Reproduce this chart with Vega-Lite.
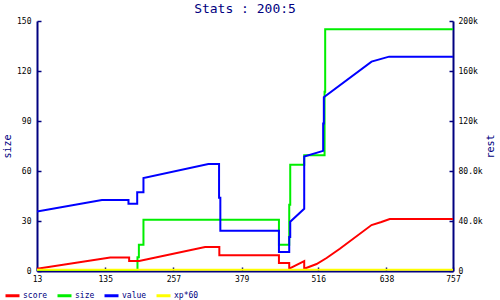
{
  "$schema": "https://vega.github.io/schema/vega-lite/v6.json",
  "width": 416,
  "height": 250,
  "autosize": {"type": "none"},
  "padding": {"left": 37, "top": 21, "right": 47, "bottom": 29},
  "background": "white",
  "title": {"text": "Stats : 200:5", "font": "DejaVu Sans Mono", "fontSize": 13, "fontWeight": "normal", "color": "#000080", "anchor": "middle", "offset": 1.5},
  "data": {"values": [
    {"s": "score", "i": 1, "x": 13, "v": 1840},
    {"s": "score", "i": 2, "x": 144, "v": 10870},
    {"s": "score", "i": 3, "x": 177.8, "v": 10870},
    {"s": "score", "i": 4, "x": 177.8, "v": 7990},
    {"s": "score", "i": 5, "x": 195.7, "v": 7990},
    {"s": "score", "i": 6, "x": 313.6, "v": 19180},
    {"s": "score", "i": 7, "x": 339.1, "v": 19180},
    {"s": "score", "i": 8, "x": 339.1, "v": 12620},
    {"s": "score", "i": 9, "x": 445.7, "v": 12620},
    {"s": "score", "i": 10, "x": 445.7, "v": 6390},
    {"s": "score", "i": 11, "x": 464.1, "v": 6390},
    {"s": "score", "i": 12, "x": 464.1, "v": 1840},
    {"s": "score", "i": 13, "x": 490.9, "v": 7830},
    {"s": "score", "i": 14, "x": 490.9, "v": 1840},
    {"s": "score", "i": 15, "x": 513, "v": 5590},
    {"s": "score", "i": 16, "x": 530.9, "v": 10390},
    {"s": "score", "i": 17, "x": 554.6, "v": 17820},
    {"s": "score", "i": 18, "x": 611.3, "v": 36750},
    {"s": "score", "i": 19, "x": 628.9, "v": 39150},
    {"s": "score", "i": 20, "x": 643.9, "v": 41550},
    {"s": "score", "i": 21, "x": 757, "v": 41550},
    {"s": "size", "i": 1, "x": 13, "v": 0},
    {"s": "size", "i": 2, "x": 192.7, "v": 0},
    {"s": "size", "i": 3, "x": 192.7, "v": 8.2},
    {"s": "size", "i": 4, "x": 195.2, "v": 8.2},
    {"s": "size", "i": 5, "x": 195.2, "v": 15.8},
    {"s": "size", "i": 6, "x": 203.4, "v": 15.8},
    {"s": "size", "i": 7, "x": 203.4, "v": 30.7},
    {"s": "size", "i": 8, "x": 445.7, "v": 30.7},
    {"s": "size", "i": 9, "x": 445.7, "v": 15.8},
    {"s": "size", "i": 10, "x": 464.1, "v": 15.8},
    {"s": "size", "i": 11, "x": 464.1, "v": 39.7},
    {"s": "size", "i": 12, "x": 465.9, "v": 39.7},
    {"s": "size", "i": 13, "x": 465.9, "v": 63.7},
    {"s": "size", "i": 14, "x": 490.9, "v": 63.7},
    {"s": "size", "i": 15, "x": 490.9, "v": 69.4},
    {"s": "size", "i": 16, "x": 527.3, "v": 69.4},
    {"s": "size", "i": 17, "x": 527.3, "v": 107.6},
    {"s": "size", "i": 18, "x": 528.4, "v": 107.6},
    {"s": "size", "i": 19, "x": 528.4, "v": 145},
    {"s": "size", "i": 20, "x": 757, "v": 145},
    {"s": "value", "i": 1, "x": 13, "v": 47620},
    {"s": "value", "i": 2, "x": 129.1, "v": 56730},
    {"s": "value", "i": 3, "x": 176.6, "v": 56730},
    {"s": "value", "i": 4, "x": 176.6, "v": 53770},
    {"s": "value", "i": 5, "x": 192.2, "v": 53770},
    {"s": "value", "i": 6, "x": 192.2, "v": 62960},
    {"s": "value", "i": 7, "x": 203.4, "v": 62960},
    {"s": "value", "i": 8, "x": 203.4, "v": 74310},
    {"s": "value", "i": 9, "x": 319.5, "v": 85570},
    {"s": "value", "i": 10, "x": 338.6, "v": 85570},
    {"s": "value", "i": 11, "x": 338.6, "v": 58570},
    {"s": "value", "i": 12, "x": 340.9, "v": 58570},
    {"s": "value", "i": 13, "x": 340.9, "v": 32200},
    {"s": "value", "i": 14, "x": 445.7, "v": 32200},
    {"s": "value", "i": 15, "x": 445.7, "v": 15180},
    {"s": "value", "i": 16, "x": 464.1, "v": 15180},
    {"s": "value", "i": 17, "x": 464.1, "v": 27170},
    {"s": "value", "i": 18, "x": 465.9, "v": 27170},
    {"s": "value", "i": 19, "x": 465.9, "v": 39390},
    {"s": "value", "i": 20, "x": 490.9, "v": 49780},
    {"s": "value", "i": 21, "x": 490.9, "v": 91570},
    {"s": "value", "i": 22, "x": 524.8, "v": 96120},
    {"s": "value", "i": 23, "x": 524.8, "v": 118000},
    {"s": "value", "i": 24, "x": 526, "v": 118000},
    {"s": "value", "i": 25, "x": 526, "v": 139030},
    {"s": "value", "i": 26, "x": 611.3, "v": 167470},
    {"s": "value", "i": 27, "x": 642.7, "v": 171470},
    {"s": "value", "i": 28, "x": 757, "v": 171470},
    {"s": "xp*60", "i": 1, "x": 13, "v": 1000},
    {"s": "xp*60", "i": 2, "x": 757, "v": 1000}
  ]},
  "encoding": {
    "x": {"field": "x", "type": "quantitative", "scale": {"domain": [13, 757], "nice": false, "zero": false},
      "axis": {"title": null, "values": [13, 135, 257, 379, 516, 638, 757], "labelFlush": false, "labelPadding": 8}},
    "color": {"field": "s", "type": "nominal",
      "scale": {"domain": ["score", "size", "value", "xp*60"], "range": ["#ff0000", "#00ee00", "#0000ff", "#ffff00"]},
      "legend": {"title": null, "orient": "none", "direction": "horizontal", "legendX": -33, "legendY": 266, "padding": 0,
        "symbolType": "stroke", "symbolSize": 196, "symbolStrokeWidth": 3, "labelFont": "DejaVu Sans Mono", "labelFontSize": 8, "labelColor": "#000080", "labelOffset": 2, "columnPadding": 3}},
    "order": {"field": "i", "type": "quantitative"}
  },
  "layer": [
    {
      "transform": [{"filter": "datum.s == 'size'"}],
      "mark": {"type": "line", "strokeWidth": 2, "clip": true},
      "encoding": {
        "y": {"field": "v", "type": "quantitative", "scale": {"domain": [0, 150], "nice": false},
          "axis": {"orient": "left", "title": "size", "values": [0, 30, 60, 90, 120, 150], "labelPadding": 10, "titleX": -30, "titleY": 125, "titleAngle": 270, "titleAlign": "center", "titleBaseline": "middle"}}
      }
    },
    {
      "transform": [{"filter": "datum.s != 'size'"}],
      "mark": {"type": "line", "strokeWidth": 2, "clip": true},
      "encoding": {
        "y": {"field": "v", "type": "quantitative", "scale": {"domain": [0, 200000], "nice": false},
          "axis": {"orient": "right", "title": "rest", "values": [0, 40000, 80000, 120000, 160000, 200000], "labelPadding": 9,
            "labelExpr": "datum.value == 0 ? '0' : (datum.value < 100000 ? format(datum.value/1000, '.1f') : format(datum.value/1000, 'd')) + 'k'",
            "titleX": 37, "titleY": 125, "titleAngle": 270, "titleAlign": "center", "titleBaseline": "middle"}}
      }
    }
  ],
  "resolve": {"scale": {"y": "independent"}, "axis": {"y": "independent"}},
  "config": {
    "view": {"stroke": null},
    "axis": {"grid": false, "domainColor": "#000080", "domainWidth": 2, "tickColor": "#000080", "tickWidth": 1.5, "tickSize": -4, "labelColor": "black", "labelFont": "DejaVu Sans Mono", "labelFontSize": 8, "labelPadding": 6, "titleFont": "DejaVu Sans Mono", "titleFontSize": 10, "titleFontWeight": "normal", "titleColor": "#000080"}
  }
}
